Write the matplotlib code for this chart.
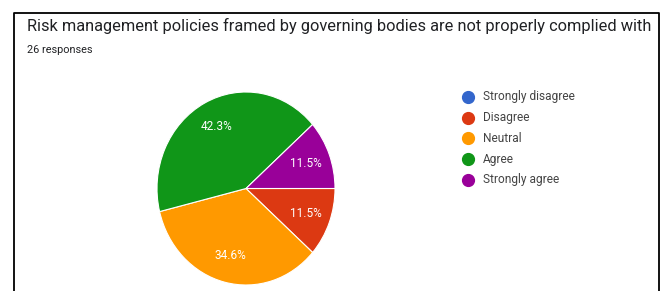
import matplotlib.pyplot as plt
from matplotlib.lines import Line2D

# survey answers (26 responses)
labels = ["Strongly disagree", "Disagree", "Neutral", "Agree", "Strongly agree"]
counts = [0, 3, 9, 11, 3]
colors = ["#3366cc", "#dc3912", "#ff9900", "#109618", "#990099"]

plt.rcParams['font.family'] = ['Roboto', 'DejaVu Sans']

W, H = 665, 291
fig = plt.figure(figsize=(W / 100, H / 100), dpi=100)

# frame around the card (open at the bottom)
fx = lambda px: px / W
fy = lambda py: 1 - py / H
fig.add_artist(Line2D([fx(14), fx(14), fx(659), fx(659)],
                      [fy(300), fy(13), fy(13), fy(300)],
                      color="black", lw=1.3, transform=fig.transFigure))

fig.text(fx(27), fy(26), "Risk management policies framed by governing bodies are not properly complied with",
         fontsize=11.75, color="#202124", va="center", ha="left")
fig.text(fx(27), fy(50), "26 responses", fontsize=7.8, color="#202124", va="center", ha="left")

# pie axes
ax = fig.add_axes([fx(157), fy(285), 178 / W, 193 / H])
nz = [(c, col) for c, col in zip(counts, colors) if c > 0]
wedges, texts, autotexts = ax.pie([c for c, _ in nz], colors=[col for _, col in nz],
                                  startangle=0, counterclock=False,
                                  autopct="%.1f%%", pctdistance=0.72,
                                  wedgeprops=dict(edgecolor="white", linewidth=0.8),
                                  textprops=dict(color="white", fontsize=8.5))
ax.set_aspect("auto")
ax.set_xlim(-1, 1)
ax.set_ylim(-1, 1)
ax.axis("off")

# legend
for i, (lab, col) in enumerate(zip(labels, colors)):
    y = 97 + i * 20.7
    fig.add_artist(Line2D([fx(468)], [fy(y)], marker="o", markersize=8.5, color=col,
                          lw=0, transform=fig.transFigure))
    fig.text(fx(483), fy(y), lab, fontsize=8.6, color="#444444", va="center", ha="left")

fig.savefig("out.png", dpi=100)
